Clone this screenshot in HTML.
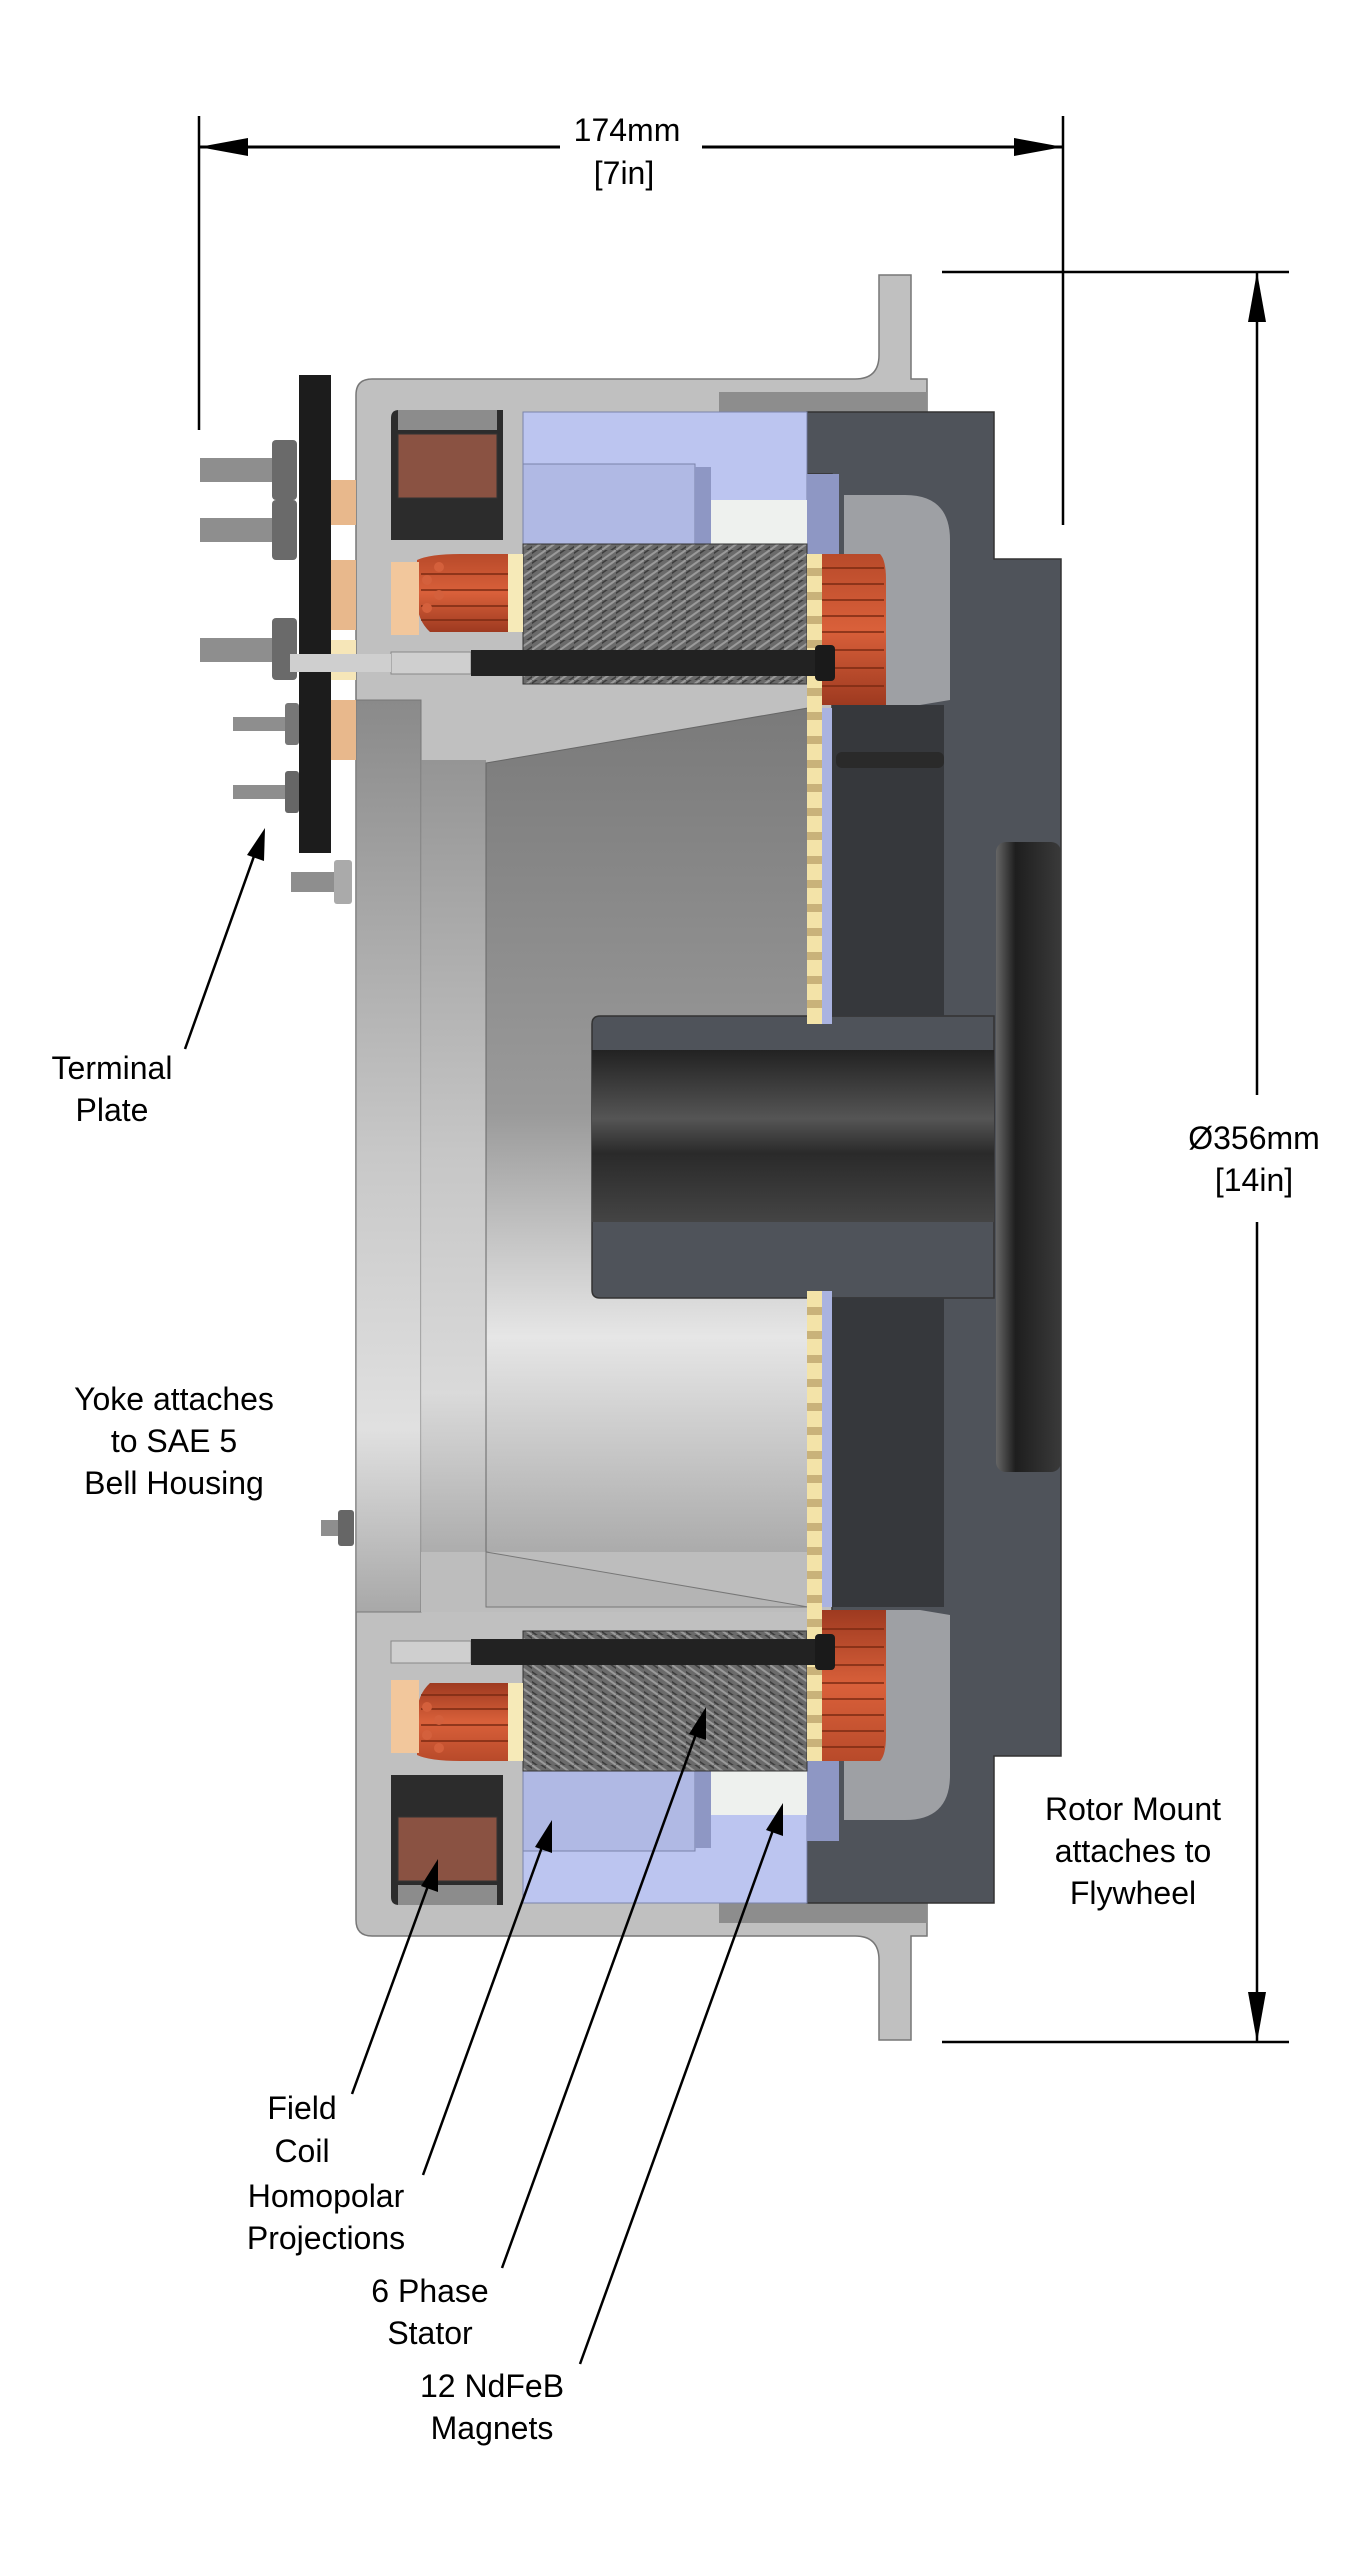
<!DOCTYPE html>
<html><head><meta charset="utf-8"><style>
html,body{margin:0;padding:0;background:#fff}
svg{display:block}
text{font-family:"Liberation Sans",Arial,sans-serif;fill:#000}
</style></head><body>
<svg width="1361" height="2560" viewBox="0 0 1361 2560" xmlns="http://www.w3.org/2000/svg">
<defs>
<linearGradient id="cone" x1="0" y1="0" x2="0" y2="1">
<stop offset="0" stop-color="#7a7a7a"/><stop offset="0.45" stop-color="#9a9a9a"/><stop offset="0.7" stop-color="#e6e6e6"/><stop offset="1" stop-color="#9c9c9c"/></linearGradient>
<linearGradient id="band" x1="0" y1="0" x2="0" y2="1">
<stop offset="0" stop-color="#8a8a8a"/><stop offset="0.5" stop-color="#c8c8c8"/><stop offset="0.8" stop-color="#e0e0e0"/><stop offset="1" stop-color="#a8a8a8"/></linearGradient>
<linearGradient id="shaft" x1="0" y1="0" x2="0" y2="1">
<stop offset="0" stop-color="#222"/><stop offset="0.4" stop-color="#555"/><stop offset="0.6" stop-color="#2a2a2a"/><stop offset="1" stop-color="#444"/></linearGradient>
<linearGradient id="disc" x1="0" y1="0" x2="1" y2="0">
<stop offset="0" stop-color="#666"/><stop offset="0.3" stop-color="#1e1e1e"/><stop offset="1" stop-color="#3a3a3a"/></linearGradient>
<linearGradient id="cu" x1="0" y1="0" x2="0" y2="1">
<stop offset="0" stop-color="#b84a2a"/><stop offset="0.5" stop-color="#d9603a"/><stop offset="1" stop-color="#9e3a20"/></linearGradient>
<pattern id="lam" width="14" height="10" patternUnits="userSpaceOnUse">
<rect width="14" height="10" fill="#6a6a6a"/><path d="M0 10 L14 0" stroke="#9a9a9a" stroke-width="2"/><path d="M-4 6 L6 -1 M8 11 L18 4" stroke="#3c3c3c" stroke-width="1.5"/></pattern>
<pattern id="teeth" width="14" height="24" patternUnits="userSpaceOnUse">
<rect width="14" height="24" fill="#f3e3a8"/><rect y="16" width="14" height="8" fill="#c9b27a"/></pattern>
<g id="half">
<path d="M391 418 Q391 410 399 410 L503 410 L503 540 L391 540 Z" fill="#2c2c2c"/>
<rect x="398" y="434" width="99" height="64" fill="#8a5242" stroke="#333"/>
<rect x="398" y="410" width="99" height="20" fill="#8c8c8c"/>
<rect x="523" y="412" width="284" height="132" fill="#bcc5f0" stroke="#7a83aa"/>
<rect x="523" y="464" width="172" height="80" fill="#b0b9e4" stroke="#7a83aa"/>
<rect x="695" y="467" width="16" height="77" fill="#8e97c4"/>
<rect x="711" y="500" width="96" height="44" fill="#eef1ee"/>
<rect x="807" y="474" width="32" height="80" fill="#8e97c4"/>
<rect x="523" y="544" width="284" height="140" fill="url(#lam)" stroke="#333"/>
<path d="M417 560 Q430 554 460 554 L508 554 L508 632 L430 632 Q417 620 417 600 Z" fill="url(#cu)"/>
<path d="M421 574 L508 574 M421 590 L508 590 M421 606 L508 606 M421 620 L508 620" stroke="#7a2a12" stroke-width="1.5"/>
<circle cx="439" cy="567" r="5" fill="#d4603c"/><circle cx="427" cy="580" r="5" fill="#d4603c"/><circle cx="439" cy="595" r="5" fill="#d4603c"/><circle cx="427" cy="608" r="5" fill="#d4603c"/>
<rect x="391" y="562" width="28" height="73" fill="#f2c79c"/>
<rect x="508" y="554" width="15" height="78" fill="#f6eab8"/>
<rect x="807" y="554" width="15" height="150" fill="url(#teeth)"/>
<path d="M822 554 L880 554 Q886 560 886 580 L886 705 L822 705 Z" fill="url(#cu)"/>
<path d="M822 568 L884 568 M822 584 L884 584 M822 600 L884 600 M822 616 L884 616 M822 632 L884 632 M822 650 L884 650 M822 668 L884 668 M822 686 L884 686" stroke="#7a2a12" stroke-width="1.5"/>
<rect x="391" y="652" width="80" height="22" fill="#cfcfcf" stroke="#888"/>
<rect x="471" y="650" width="348" height="26" fill="#222"/>
<rect x="815" y="645" width="20" height="36" rx="4" fill="#1a1a1a"/>
<rect x="807" y="704" width="15" height="320" fill="url(#teeth)"/>
<rect x="822" y="708" width="10" height="316" fill="#aab3e0"/>
</g>
</defs>

<line x1="199" y1="116" x2="199" y2="430" stroke="#000" stroke-width="2.5"/>
<line x1="1063" y1="116" x2="1063" y2="525" stroke="#000" stroke-width="2.5"/>
<line x1="199" y1="147" x2="560" y2="147" stroke="#000" stroke-width="3"/>
<line x1="702" y1="147" x2="1063" y2="147" stroke="#000" stroke-width="3"/>
<polygon points="199,147 248,138 248,156" fill="#000"/>
<polygon points="1063,147 1014,138 1014,156" fill="#000"/>
<text x="627" y="141" font-size="32" text-anchor="middle">174mm</text>
<text x="624" y="184" font-size="32" text-anchor="middle">[7in]</text>

<line x1="942" y1="272" x2="1289" y2="272" stroke="#000" stroke-width="2.5"/>
<line x1="942" y1="2042" x2="1289" y2="2042" stroke="#000" stroke-width="2.5"/>
<line x1="1257" y1="272" x2="1257" y2="1095" stroke="#000" stroke-width="2.5"/>
<line x1="1257" y1="1222" x2="1257" y2="2042" stroke="#000" stroke-width="2.5"/>
<polygon points="1257,272 1248,322 1266,322" fill="#000"/>
<polygon points="1257,2042 1248,1992 1266,1992" fill="#000"/>
<text x="1254" y="1149" font-size="32" text-anchor="middle">Ø356mm</text>
<text x="1254" y="1191" font-size="32" text-anchor="middle">[14in]</text>

<path d="M879 275 L911 275 L911 379 L927 379 L927 1936 L911 1936 L911 2040 L879 2040 L879 1960 Q879 1936 855 1936 L372 1936 Q356 1936 356 1920 L356 395 Q356 379 372 379 L855 379 Q879 379 879 355 Z" fill="#c0c0c0" stroke="#777" stroke-width="1.5"/>
<rect x="719" y="392" width="208" height="20" fill="#8d8d8d"/>
<rect x="719" y="1903" width="208" height="20" fill="#8d8d8d"/>

<rect x="356" y="700" width="65" height="912" fill="url(#band)" stroke="#777"/>
<rect x="421" y="760" width="65" height="792" fill="url(#band)" opacity="0.8"/>
<path d="M486 763 L808 708 L808 1607 L486 1552 Z" fill="url(#cone)" stroke="#666"/>
<rect x="421" y="1552" width="387" height="60" fill="#bdbdbd"/>
<path d="M486 1552 L808 1607 L486 1607 Z" fill="#b4b4b4" stroke="#777"/>

<!-- rotor -->
<path d="M807 412 L994 412 L994 559 L1061 559 L1061 1756 L994 1756 L994 1903 L807 1903 L807 1840 L832 1840 L832 474 L807 474 Z" fill="#4f535a" stroke="#333" stroke-width="1.5"/>
<path d="M600 1016 L994 1016 L994 1298 L600 1298 Q592 1298 592 1290 L592 1024 Q592 1016 600 1016 Z" fill="#4f535a" stroke="#333" stroke-width="1.5"/>
<rect x="832" y="705" width="112" height="311" fill="#36383c"/>
<rect x="832" y="1298" width="112" height="309" fill="#36383c"/>
<rect x="592" y="1050" width="402" height="172" fill="url(#shaft)"/>
<rect x="996" y="842" width="65" height="630" rx="10" fill="url(#disc)"/>
<path d="M844 495 L905 495 Q950 495 950 540 L950 700 L920 705 L844 705 Z" fill="#9ea0a4"/>
<path d="M844 1820 L905 1820 Q950 1820 950 1775 L950 1615 L920 1610 L844 1610 Z" fill="#9ea0a4"/>
<rect x="836" y="752" width="108" height="16" rx="6" fill="#2a2a2a"/>

<use href="#half"/>
<use href="#half" transform="translate(0,2315) scale(1,-1)"/>

<rect x="299" y="375" width="32" height="478" fill="#1c1c1c"/>
<rect x="331" y="480" width="25" height="45" fill="#e8b88c"/>
<rect x="331" y="560" width="25" height="70" fill="#e8b88c"/>
<rect x="331" y="700" width="25" height="60" fill="#e8b88c"/>
<rect x="331" y="640" width="25" height="40" fill="#f6e6b8"/>
<g fill="#8e8e8e">
<rect x="200" y="458" width="75" height="24"/><rect x="272" y="440" width="25" height="60" rx="4" fill="#6a6a6a"/>
<rect x="200" y="518" width="75" height="24"/><rect x="272" y="500" width="25" height="60" rx="4" fill="#6a6a6a"/>
<rect x="200" y="638" width="75" height="24"/><rect x="272" y="618" width="25" height="62" rx="4" fill="#6a6a6a"/>
<rect x="290" y="654" width="101" height="18" fill="#cfcfcf"/>
<rect x="233" y="717" width="55" height="14"/><rect x="285" y="703" width="14" height="42" rx="3" fill="#777"/>
<rect x="233" y="785" width="55" height="14"/><rect x="285" y="771" width="14" height="42" rx="3" fill="#666"/>
<rect x="291" y="872" width="45" height="20"/><rect x="334" y="860" width="18" height="44" rx="3" fill="#aaa"/>
<rect x="321" y="1520" width="20" height="16"/><rect x="338" y="1510" width="16" height="36" rx="3" fill="#666"/>
</g>

<g stroke="#000" stroke-width="2.5" fill="none">
<line x1="185" y1="1049" x2="258" y2="845"/>
<line x1="352" y1="2094" x2="432" y2="1875"/>
<line x1="423" y1="2175" x2="546" y2="1836"/>
<line x1="502" y1="2268" x2="700" y2="1723"/>
<line x1="580" y1="2364" x2="777" y2="1819"/>
</g>
<g fill="#000">
<polygon points="265,828 264,861 247,855"/>
<polygon points="438,1859 438,1892 421,1886"/>
<polygon points="552,1820 552,1853 535,1847"/>
<polygon points="706,1707 706,1740 689,1734"/>
<polygon points="783,1803 783,1836 766,1830"/>
</g>

<g font-size="32" text-anchor="middle">
<text x="112" y="1079">Terminal</text><text x="112" y="1121">Plate</text>
<text x="174" y="1410">Yoke attaches</text><text x="174" y="1452">to SAE 5</text><text x="174" y="1494">Bell Housing</text>
<text x="1133" y="1820">Rotor Mount</text><text x="1133" y="1862">attaches to</text><text x="1133" y="1904">Flywheel</text>
<text x="302" y="2119">Field</text><text x="302" y="2162">Coil</text>
<text x="326" y="2207">Homopolar</text><text x="326" y="2249">Projections</text>
<text x="430" y="2302">6 Phase</text><text x="430" y="2344">Stator</text>
<text x="492" y="2397">12 NdFeB</text><text x="492" y="2439">Magnets</text>
</g>
</svg>
</body></html>
